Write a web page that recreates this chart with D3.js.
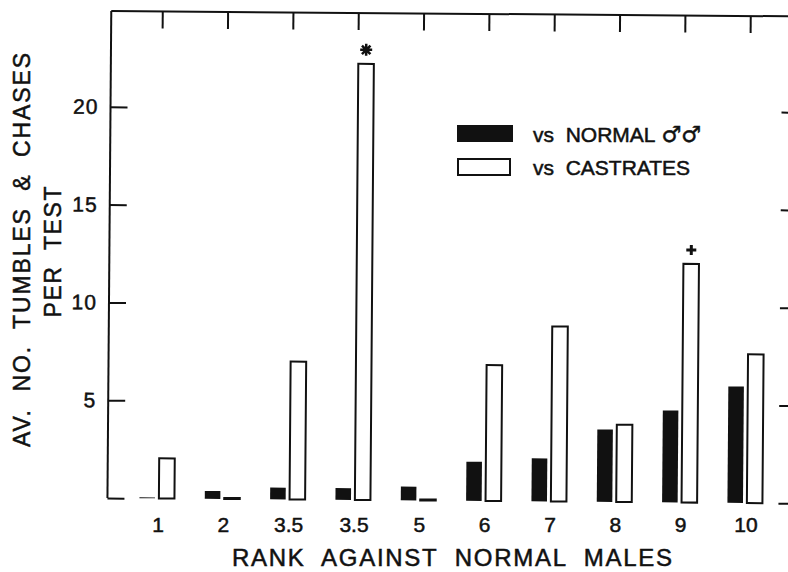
<!DOCTYPE html>
<html>
<head>
<meta charset="utf-8">
<script src="https://cdn.jsdelivr.net/npm/d3@7"></script>
<style>
    body { margin: 0; background: #fff; }
    text { font-family: "Liberation Sans", Arial, sans-serif; fill: #111; stroke: #111; stroke-width: 0.5px; }
    .title { white-space: pre; }
</style>
</head>
<body>
<div id="chart"></div>
<script>
// rank of each male against normal males (two of them tie at 3.5)
let ranks = ["1", "2", "3.5", "3.5", "5", "6", "7", "8", "9", "10"];

// av. no. tumbles & chases per test
let vsNormal    = [0.05, 0.4, 0.6, 0.6, 0.7, 2.0, 2.2, 3.7, 4.7, 5.95];
let vsCastrates = [2.05, 0.05, 7.05, 22.3, 0.05, 6.95, 8.95, 3.95, 12.2, 7.6];

let yTicks = [0, 5, 10, 15, 20];
let seriesKeys = ["normal", "castrates"];
let seriesNames = ["vs  NORMAL", "vs  CASTRATES"];

// significance marks above castrate bars
let marks = [{idx: 3, type: "asterisk"}, {idx: 8, type: "plus"}];

let width = 788, height = 572;

let svg = d3.select("#chart").append("svg")
    .attr("width", width)
    .attr("height", height);

let x = d3.scalePoint()
    .domain(d3.range(ranks.length))
    .range([160, 748]);

let xSub = d3.scaleBand()
    .domain(seriesKeys)
    .range([-19, 16])
    .paddingInner(0.2);

let y = d3.scaleLinear()
    .domain([0, 20])
    .range([498, 106.8]);

let axisX = 109, frameTop = 11, frameRight = 792;

// the scanned figure sits slightly tilted
let plot = svg.append("g")
    .attr("transform", `rotate(0.45, ${axisX}, 300)`);

// frame: top line and left axis line
plot.append("line")
    .attr("x1", axisX).attr("x2", frameRight)
    .attr("y1", frameTop).attr("y2", frameTop)
    .attr("stroke", "#111").attr("stroke-width", 2);

plot.append("line")
    .attr("x1", axisX).attr("x2", axisX)
    .attr("y1", frameTop).attr("y2", y(0))
    .attr("stroke", "#111").attr("stroke-width", 2);

// left axis, ticks pointing inward
let leftAxis = d3.axisLeft(y)
    .tickValues(yTicks)
    .tickSize(-17)
    .tickPadding(12)
    .tickFormat(d => d === 0 ? "" : d);

let leftG = plot.append("g")
    .attr("transform", `translate(${axisX},0)`)
    .call(leftAxis);
leftG.select(".domain").remove();
leftG.selectAll(".tick line").attr("stroke", "#111").attr("stroke-width", 2);
leftG.selectAll(".tick text")
    .style("font-family", "'Liberation Sans', Arial, sans-serif")
    .style("font-size", "21px")
    .attr("letter-spacing", 1)
    .attr("fill", "#111");

// right axis, only ticks visible at the page edge
let rightAxis = d3.axisLeft(y)
    .tickValues(yTicks)
    .tickSize(12)
    .tickFormat("");

let rightG = plot.append("g")
    .attr("transform", `translate(${frameRight},0)`)
    .call(rightAxis);
rightG.select(".domain").remove();
rightG.selectAll(".tick line").attr("stroke", "#111").attr("stroke-width", 2);

// top ticks at each rank
let topAxis = d3.axisTop(x)
    .tickSize(-17)
    .tickFormat("");

let topG = plot.append("g")
    .attr("transform", `translate(0,${frameTop})`)
    .call(topAxis);
topG.select(".domain").remove();
topG.selectAll(".tick line").attr("stroke", "#111").attr("stroke-width", 2);

// bars
let rows = ranks.map((r, i) => ({idx: i, normal: vsNormal[i], castrates: vsCastrates[i]}));

let groups = plot.selectAll(".group")
    .data(rows)
    .enter()
    .append("g")
    .attr("class", "group")
    .attr("transform", d => `translate(${x(d.idx)},0)`);

groups.append("rect")
    .attr("x", xSub("normal"))
    .attr("width", xSub.bandwidth())
    .attr("y", d => y(d.normal))
    .attr("height", d => y(0) - y(d.normal))
    .attr("fill", "#111");

groups.append("rect")
    .attr("x", xSub("castrates"))
    .attr("width", xSub.bandwidth())
    .attr("y", d => y(d.castrates))
    .attr("height", d => y(0) - y(d.castrates))
    .attr("fill", "#fff")
    .attr("stroke", "#111")
    .attr("stroke-width", 2);

// asterisk / plus above the bars
marks.forEach(m => {
    let cx = x(m.idx) + xSub("castrates") + xSub.bandwidth() / 2;
    let cy = y(vsCastrates[m.idx]) - 14;
    let p = d3.path();
    if (m.type === "plus") {
        p.moveTo(cx - 5, cy); p.lineTo(cx + 5, cy);
        p.moveTo(cx, cy - 5); p.lineTo(cx, cy + 5);
    } else {
        for (let k = 0; k < 4; k++) {
            let a = k * Math.PI / 4;
            p.moveTo(cx - 6 * Math.cos(a), cy - 6 * Math.sin(a));
            p.lineTo(cx + 6 * Math.cos(a), cy + 6 * Math.sin(a));
        }
    }
    plot.append("path")
        .attr("d", p.toString())
        .attr("stroke", "#111")
        .attr("stroke-width", m.type === "plus" ? 3 : 2.5)
        .attr("fill", "none");
});

// x tick labels
svg.append("g").selectAll("text")
    .data(ranks)
    .enter()
    .append("text")
    .attr("x", (d, i) => x(i) - 2)
    .attr("y", 532)
    .attr("text-anchor", "middle")
    .style("font-size", "21px")
    .text(d => d);

// axis titles
svg.append("text")
    .attr("class", "title")
    .attr("x", 452)
    .attr("y", 566)
    .attr("text-anchor", "middle")
    .attr("textLength", 440)
    .attr("lengthAdjust", "spacing")
    .style("font-size", "24px")
    .text("RANK  AGAINST  NORMAL  MALES");

svg.append("text")
    .attr("class", "title")
    .attr("transform", "translate(30,250) rotate(-90)")
    .attr("text-anchor", "middle")
    .attr("textLength", 394)
    .attr("lengthAdjust", "spacing")
    .style("font-size", "23px")
    .text("AV.  NO.  TUMBLES  &  CHASES");

svg.append("text")
    .attr("class", "title")
    .attr("transform", "translate(61,252) rotate(-90)")
    .attr("text-anchor", "middle")
    .attr("textLength", 131)
    .attr("lengthAdjust", "spacing")
    .style("font-size", "23px")
    .text("PER  TEST");

// legend
let legend = svg.append("g")
    .attr("class", "legend")
    .attr("transform", "translate(457,125)");

legend.append("rect")
    .attr("x", 0).attr("y", 0)
    .attr("width", 56).attr("height", 17)
    .attr("fill", "#111");

legend.append("rect")
    .attr("x", 1).attr("y", 34)
    .attr("width", 52).attr("height", 16)
    .attr("fill", "#fff")
    .attr("stroke", "#111")
    .attr("stroke-width", 2);

let labels = legend.selectAll(".label")
    .data(seriesNames)
    .enter()
    .append("text")
    .attr("class", "label")
    .attr("x", 76)
    .attr("y", (d, i) => 17 + i * 33)
    .style("font-size", "21px")
    .style("white-space", "pre")
    .text(d => d);

// male symbols after "NORMAL"
labels.filter((d, i) => i === 0)
    .append("tspan")
    .attr("dx", 6)
    .style("font-family", "'DejaVu Sans', sans-serif")
    .style("font-size", "22px")
    .text("♂♂");
</script>
</body>
</html>
